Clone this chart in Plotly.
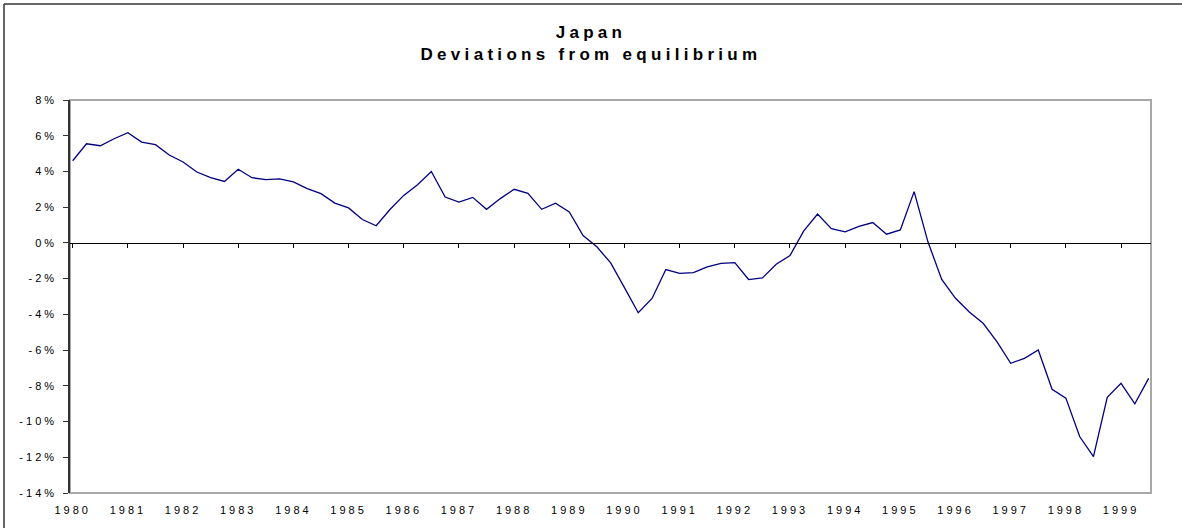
import pandas as pd
import plotly.graph_objects as go

# quarterly deviations from equilibrium, % (1980Q1 - 1999Q3)
deviation = [
    4.60, 5.55, 5.44, 5.83,
    6.17, 5.64, 5.50, 4.92,
    4.53, 3.97, 3.66, 3.44,
    4.12, 3.65, 3.54, 3.58,
    3.41, 3.04, 2.76, 2.23,
    1.96, 1.31, 0.96, 1.87,
    2.66, 3.26, 4.00, 2.57,
    2.29, 2.55, 1.88, 2.48,
    3.00, 2.78, 1.88, 2.22,
    1.73, 0.41, -0.22, -1.12,
    -2.50, -3.91, -3.11, -1.49,
    -1.71, -1.66, -1.34, -1.15,
    -1.10, -2.05, -1.96, -1.19,
    -0.71, 0.67, 1.62, 0.80,
    0.62, 0.93, 1.14, 0.49,
    0.73, 2.87, 0.06, -2.04,
    -3.10, -3.87, -4.50, -5.53,
    -6.74, -6.46, -5.99, -8.19,
    -8.69, -10.84, -11.96, -8.64,
    -7.86, -9.01, -7.58,
]
year_ticks = list(range(1980, 2000))
pct_ticks = list(range(-14, 10, 2))

periods = pd.period_range("1980Q1", periods=len(deviation), freq="Q")
x = [p.year + (p.quarter - 1) / 4 for p in periods]

W, H = 1182, 528
L, R, T, B = 70, 31, 100, 35
FONT = "Arial, Liberation Sans, sans-serif"
x_range = [1979.951, 1999.543]


def px(xp):
    return (xp - L) / (W - L - R)


def py(yp):
    return (H - B - yp) / (H - T - B)


fig = go.Figure()
fig.add_scatter(x=x, y=deviation, mode="lines",
                line=dict(color="#000080", width=1.3), showlegend=False,
                hovertemplate="%{y:.2f}%<extra></extra>")
# invisible trace so xaxis2 gets drawn
fig.add_scatter(x=[x[0]], y=[0], xaxis="x2", mode="markers",
                marker=dict(opacity=0), showlegend=False, hoverinfo="skip")

fig.update_layout(
    width=W, height=H,
    margin=dict(l=L, r=R, t=T, b=B),
    paper_bgcolor="white", plot_bgcolor="white",
    font=dict(family=FONT, size=11, color="black"),
    title=dict(text="Japan<br>Deviations from equilibrium",
               x=0.5, xref="container", xanchor="center",
               y=1 - 38 / H, yref="container", yanchor="middle",
               font=dict(family=FONT, size=17, color="black", weight="bold")),
    xaxis=dict(range=x_range, tickvals=year_ticks, showgrid=False, zeroline=False,
               showline=False, ticks="", ticklabelstandoff=9),
    xaxis2=dict(range=x_range, tickvals=year_ticks, overlaying="x", anchor="free",
                position=14 / 22, side="bottom", showgrid=False, zeroline=False,
                showline=True, linecolor="black", linewidth=1,
                ticks="outside", ticklen=4, tickcolor="black", showticklabels=False),
    yaxis=dict(range=[-14, 8], tickvals=pct_ticks,
               ticktext=[f"{v}%" for v in pct_ticks],
               showgrid=False, zeroline=False, showline=True,
               linecolor="#333333", linewidth=1.5,
               ticks="outside", ticklen=5, tickcolor="#333333",
               ticklabelstandoff=4),
    shapes=[
        # plot area border
        dict(type="rect", xref="paper", yref="paper", x0=0, x1=1, y0=0, y1=1,
             line=dict(color="#a8a8a8", width=2), layer="below"),
        # chart area border (top and left visible)
        dict(type="line", xref="paper", yref="paper",
             x0=px(4), x1=px(W + 2), y0=py(4), y1=py(4),
             line=dict(color="#333333", width=1.5)),
        dict(type="line", xref="paper", yref="paper",
             x0=px(4), x1=px(4), y0=py(4), y1=py(H + 2),
             line=dict(color="#333333", width=1.5)),
    ],
)

spacing_js = """
document.body.style.margin = '0';
var gd = document.getElementById('{plot_id}');
gd.querySelectorAll('.gtitle').forEach(function (t) { t.style.letterSpacing = '4.3px'; });
gd.querySelectorAll('.xtick text, .ytick text').forEach(function (t) { t.style.letterSpacing = '3px'; });
"""
fig.write_html("out.html", post_script=spacing_js,
               config={"displayModeBar": False})
